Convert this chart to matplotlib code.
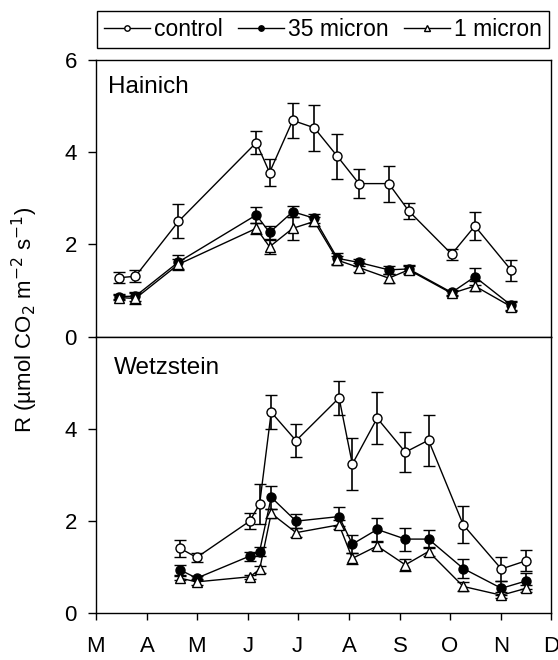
import numpy as np
import matplotlib.pyplot as plt

plt.rcParams['font.family'] = ['Liberation Sans', 'DejaVu Sans']
plt.rcParams['font.size'] = 16

# day of year for sampling dates
hai_doy = [74, 84, 110, 157, 165, 179, 192, 206, 219, 237, 249, 275, 289, 311]
hai_ctrl = [1.28, 1.31, 2.50, 4.21, 3.56, 4.69, 4.53, 3.91, 3.32, 3.32, 2.73, 1.79, 2.40, 1.44]
hai_ctrl_err = [0.12, 0.13, 0.37, 0.25, 0.29, 0.38, 0.50, 0.49, 0.32, 0.39, 0.18, 0.12, 0.30, 0.23]
hai_35 = [0.87, 0.88, 1.62, 2.64, 2.26, 2.71, 2.57, 1.70, 1.61, 1.45, 1.47, 0.96, 1.30, 0.68]
hai_35_err = [0.06, 0.10, 0.15, 0.18, 0.15, 0.12, 0.10, 0.12, 0.08, 0.08, 0.08, 0.05, 0.18, 0.10]
hai_1 = [0.85, 0.83, 1.57, 2.35, 1.95, 2.35, 2.50, 1.66, 1.50, 1.27, 1.45, 0.94, 1.10, 0.65]
hai_1_err = [0.06, 0.12, 0.12, 0.12, 0.15, 0.25, 0.10, 0.10, 0.10, 0.10, 0.08, 0.05, 0.10, 0.10]

wet_doy = [111, 121, 153, 159, 166, 181, 207, 215, 230, 247, 261, 282, 305, 320]
wet_ctrl = [1.40, 1.20, 1.99, 2.36, 4.36, 3.74, 4.67, 3.23, 4.23, 3.49, 3.75, 1.91, 0.95, 1.13]
wet_ctrl_err = [0.18, 0.10, 0.17, 0.43, 0.37, 0.36, 0.37, 0.56, 0.56, 0.43, 0.55, 0.40, 0.27, 0.23]
wet_35 = [0.93, 0.75, 1.23, 1.33, 2.51, 1.99, 2.09, 1.49, 1.81, 1.60, 1.60, 0.96, 0.53, 0.69]
wet_35_err = [0.10, 0.05, 0.10, 0.10, 0.25, 0.15, 0.20, 0.20, 0.25, 0.25, 0.20, 0.20, 0.15, 0.17]
wet_1 = [0.75, 0.67, 0.78, 0.94, 2.16, 1.74, 1.91, 1.18, 1.45, 1.04, 1.33, 0.57, 0.38, 0.53]
wet_1_err = [0.05, 0.06, 0.05, 0.07, 0.10, 0.10, 0.10, 0.12, 0.08, 0.13, 0.10, 0.10, 0.07, 0.07]

month_doy = [60, 91, 121, 152, 182, 213, 244, 274, 305, 335]
month_labels = ['M', 'A', 'M', 'J', 'J', 'A', 'S', 'O', 'N', 'D']

fig = plt.figure(figsize=(5.58, 6.6), dpi=100)
ax1 = fig.add_axes([0.1715, 0.4898, 0.816, 0.4193])
ax2 = fig.add_axes([0.1715, 0.0717, 0.816, 0.4181])

styles = [
    dict(marker='o', mfc='white', mec='black', ms=6.5, label='control'),
    dict(marker='o', mfc='black', mec='black', ms=6.5, label='35 micron'),
    dict(marker='^', mfc='white', mec='black', ms=6.5, label='1 micron'),
]

def draw(ax, x, series, name, lx, ly):
    lines = []
    for (y, e), st in zip(series, styles):
        c = ax.errorbar(x, y, yerr=e, color='black', lw=1, elinewidth=1.2,
                        capsize=4.5, capthick=1.2, mew=1, **st)
        lines.append(c[0])
    ax.set_xlim(60, 335)
    ax.set_ylim(0, 6)
    ax.text(lx, ly, name, transform=ax.transAxes, fontsize=17.5, va='baseline')
    ax.tick_params(direction='out', length=5.5, width=1, pad=8)
    for s in ax.spines.values():
        s.set_linewidth(1)
    return lines

lines = draw(ax1, hai_doy, [(hai_ctrl, hai_ctrl_err), (hai_35, hai_35_err), (hai_1, hai_1_err)],
             'Hainich', 0.028, 0.88)
draw(ax2, wet_doy, [(wet_ctrl, wet_ctrl_err), (wet_35, wet_35_err), (wet_1, wet_1_err)],
     'Wetzstein', 0.039, 0.865)

ax1.set_yticks([0, 2, 4, 6])
ax1.set_xticks([])
ax2.set_yticks([0, 2, 4])
ax2.set_xticks(month_doy)
ax2.set_xticklabels(month_labels)
ax2.tick_params(axis='x', length=5, pad=12)

fig.text(0.045, 0.515, 'R (µmol CO$_2$ m$^{-2}$ s$^{-1}$)', rotation=90,
         ha='center', va='center', fontsize=16)

leg = fig.legend(lines, [s['label'] for s in styles], ncol=3, loc='lower left',
                 bbox_to_anchor=(0.174, 0.927, 0.81, 0.054), mode='expand',
                 borderaxespad=0, fancybox=False, edgecolor='black',
                 framealpha=1, markerscale=0.6, handlelength=2.0,
                 handletextpad=0.2, columnspacing=0.6, fontsize=16.5,
                 borderpad=0.3)
leg.get_frame().set_linewidth(1)

fig.savefig('out.png', dpi=100)
